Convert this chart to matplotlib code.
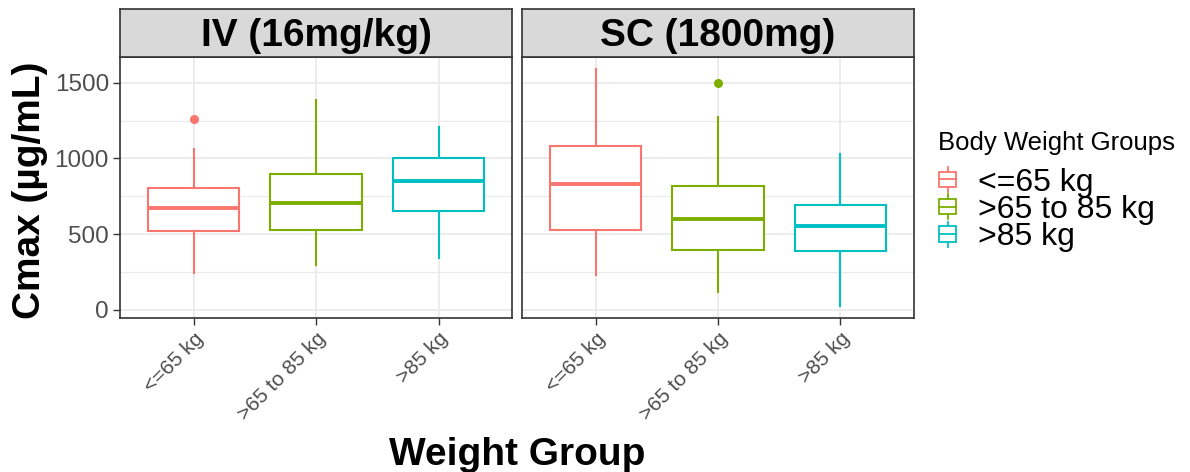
import numpy as np
import matplotlib.pyplot as plt
from matplotlib.legend_handler import HandlerBase
from matplotlib.patches import Rectangle
from matplotlib.lines import Line2D

plt.rcParams['font.family'] = ['Liberation Sans', 'DejaVu Sans']

groups = ['<=65 kg', '>65 to 85 kg', '>85 kg']
colors = ['#F8766D', '#7CAE00', '#00BFC4']
panels = ['IV (16mg/kg)', 'SC (1800mg)']

# five-number summaries per panel, one entry per weight group
whislo = [[246, 297, 345], [229, 121, 26]]
q1 = [[521, 528, 655], [530, 398, 387]]
med = [[675, 706, 849], [830, 603, 554]]
q3 = [[803, 900, 1001], [1083, 820, 695]]
whishi = [[1060, 1386, 1210], [1589, 1272, 1028]]
outliers = [[[1259], [], []], [[], [1496], []]]

yticks = [0, 500, 1000, 1500]

W, H = 1190, 472
fig = plt.figure(figsize=(W / 100, H / 100), dpi=100)


def fbox(x0, y0, x1, y1):
    # pixel box (top-left origin) -> figure fraction rect
    return [x0 / W, 1 - y1 / H, (x1 - x0) / W, (y1 - y0) / H]


edge = '#333333'
lefts = [120, 522]
axes = []
for p in range(2):
    x0 = lefts[p]
    ax = fig.add_axes(fbox(x0, 57.3, x0 + 392, 318))
    axes.append(ax)
    stats = []
    for g in range(3):
        stats.append(dict(med=med[p][g], q1=q1[p][g], q3=q3[p][g],
                          whislo=whislo[p][g], whishi=whishi[p][g],
                          fliers=outliers[p][g]))
    parts = ax.bxp(stats, positions=[1, 2, 3], widths=0.75, showcaps=False,
                   patch_artist=True, zorder=3)
    for g in range(3):
        c = colors[g]
        parts['boxes'][g].set(facecolor='white', edgecolor=c, linewidth=1.5)
        parts['medians'][g].set(color=c, linewidth=2.8)
        for w in parts['whiskers'][2 * g:2 * g + 2]:
            w.set(color=c, linewidth=1.5)
        parts['fliers'][g].set(marker='o', markerfacecolor=c,
                               markeredgecolor=c, markersize=5.5)

    ax.set_xlim(0.4, 3.6)
    ax.set_ylim(-53, 1668)
    ax.set_yticks(yticks)
    ax.set_yticks([250, 750, 1250], minor=True)
    ax.set_xticks([1, 2, 3])
    ax.set_xticklabels(groups, rotation=45, ha='right', rotation_mode='anchor',
                       fontsize=15, color='#4D4D4D')
    ax.tick_params(axis='y', which='minor', length=0)
    ax.tick_params(which='major', length=5, width=1, color=edge, pad=3)
    ax.tick_params(axis='x', pad=3)
    if p == 0:
        ax.set_yticklabels([str(t) for t in yticks], fontsize=17.5, color='#4D4D4D')
    else:
        ax.tick_params(axis='y', labelleft=False, length=0)
    ax.grid(True, which='major', color='#EBEBEB', linewidth=1.3, zorder=0)
    ax.grid(True, which='minor', axis='y', color='#EBEBEB', linewidth=0.8, zorder=0)
    ax.set_axisbelow(True)
    for s in ax.spines.values():
        s.set_color(edge)
        s.set_linewidth(1.2)

    # facet strip
    sax = fig.add_axes(fbox(x0, 9.3, x0 + 392, 57.3))
    sax.set_facecolor('#D9D9D9')
    sax.set_xticks([])
    sax.set_yticks([])
    for s in sax.spines.values():
        s.set_color(edge)
        s.set_linewidth(1.2)
    sax.text(0.5, 0.45, panels[p], ha='center', va='center',
             fontsize=28, fontweight='bold', transform=sax.transAxes)

fig.text(30 / W, 1 - 190 / H, 'Cmax (µg/mL)', rotation=90, ha='center',
         va='center', fontsize=28, fontweight='bold')
fig.text(517 / W, 1 - 455 / H, 'Weight Group', ha='center', va='center',
         fontsize=28, fontweight='bold')


class BoxKey(HandlerBase):
    # small boxplot glyph for the legend key
    def create_artists(self, legend, orig_handle, xdescent, ydescent,
                       width, height, fontsize, trans):
        c = orig_handle.get_color()
        cx = width / 2 - xdescent
        bw = width * 0.9
        bh = height * 0.8
        y0 = height / 2 - ydescent - bh / 2
        box = Rectangle((cx - bw / 2, y0), bw, bh, facecolor='white',
                        edgecolor=c, linewidth=1.3, transform=trans)
        mid = Line2D([cx - bw / 2, cx + bw / 2], [y0 + bh / 2] * 2,
                     color=c, linewidth=1.3, transform=trans)
        top = Line2D([cx, cx], [y0 + bh, y0 + bh + height * 0.25],
                     color=c, linewidth=1.3, transform=trans)
        bot = Line2D([cx, cx], [y0, y0 - height * 0.25],
                     color=c, linewidth=1.3, transform=trans)
        return [box, mid, top, bot]


handles = [Line2D([], [], color=c) for c in colors]
leg = fig.legend(handles, groups, title='Body Weight Groups',
                 handler_map={Line2D: BoxKey()},
                 loc='upper left', bbox_to_anchor=(938 / W, 1 - 131 / H),
                 frameon=False, fontsize=23, title_fontsize=18.5,
                 handlelength=0.6, handleheight=0.55, handletextpad=0.65,
                 labelspacing=-0.08, borderaxespad=0, borderpad=0)
leg._legend_box.align = 'left'
leg._legend_box.sep = 9

fig.savefig('out.png', dpi=100)
